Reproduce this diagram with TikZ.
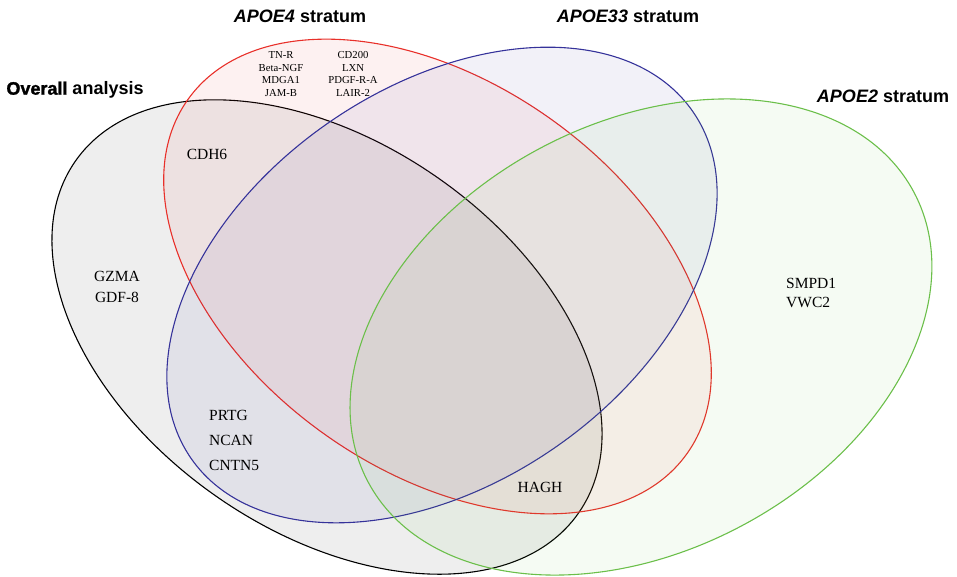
\documentclass[tikz,border=0pt]{standalone}
\usepackage{fontspec}
\setmainfont{Liberation Serif}
\setsansfont{Liberation Sans}
\newfontfamily\heavysans[FakeBold=1.5]{Liberation Sans Bold}
\usetikzlibrary{positioning}
\definecolor{ovl}{HTML}{000000}
\definecolor{ap4}{HTML}{E8302A}
\definecolor{ap33}{HTML}{35329A}
\definecolor{ap2}{HTML}{6BBF4A}

\begin{document}
\begin{tikzpicture}[x=1pt, y=-1pt,
  set/.style={draw=#1, fill=#1, fill opacity=0.065, line width=1.1pt},
  title/.style={font=\sffamily\bfseries\fontsize{18}{22}\selectfont, inner sep=0pt},
  small/.style={font=\fontsize{10.7}{12.5}\selectfont, align=center, inner sep=0pt},
  gene/.style={font=\fontsize{15.5}{21}\selectfont, align=center, inner sep=0pt},
]
  \useasboundingbox (0,0) rectangle (957,576);

  % centres of the four sets
  \coordinate (ov)  at (327,337);
  \coordinate (a4)  at (437.5,276.5);
  \coordinate (a33) at (442,285);
  \coordinate (a2)  at (641,337);

  \draw[set=ovl,  rotate around={-35:(ov)}]   (ov)  ellipse [x radius=307pt, y radius=194pt];
  \draw[set=ap4,  rotate around={-35.3:(a4)}] (a4)  ellipse [x radius=306pt, y radius=194pt];
  \draw[set=ap33, rotate around={34.6:(a33)}] (a33) ellipse [x radius=305pt, y radius=198pt];
  \draw[set=ap2,  rotate around={27.9:(a2)}]  (a2)  ellipse [x radius=309pt, y radius=214pt];

  % set titles
  \node[title] (t4)  at (300,16) {\textit{APOE4} stratum};
  \node[title] (t33) at (628,16) {\textit{APOE33} stratum};
  \node[title] (t2)  at (883,96) {\textit{APOE2} stratum};
  \node[title] (tov) at (75,90)  {{\heavysans Overall} analysis};

  % genes
  \node[small] (l4a) at (281,74) {TN-R\\Beta-NGF\\MDGA1\\JAM-B};
  \node[small] (l4b) at (353,74) {CD200\\LXN\\PDGF-R-A\\LAIR-2};
  \node[gene] (cdh)  at (207,154) {CDH6};
  \node[gene] (gzma) at (117,287) {GZMA\\GDF-8};
  \node[gene, align=left, anchor=west, font=\fontsize{15.5}{25}\selectfont] (prtg) at (209,440) {PRTG\\NCAN\\CNTN5};
  \node[gene, align=left, anchor=west, font=\fontsize{15.5}{19}\selectfont] (smpd) at (786,293) {SMPD1\\VWC2};
  \node[gene] (hagh) at (540,487) {HAGH};
\end{tikzpicture}
\end{document}
